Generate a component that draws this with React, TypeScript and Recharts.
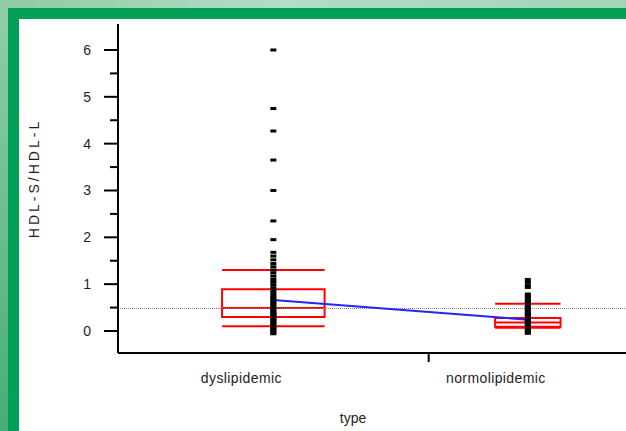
import React from 'react';
import { ComposedChart, XAxis, YAxis, Scatter, Line, ReferenceLine, ReferenceArea, Label } from 'recharts';

// ---- data ----
const categories = ['dyslipidemic', 'normolipidemic'];
const groupCounts = [47, 30];
const dysValues = [
  6.0, 4.75, 4.27, 3.65, 3.0, 2.35, 1.95, 1.68, 1.6, 1.52, 1.44, 1.37, 1.3, 1.24,
  1.17, 1.1, 1.04, 0.98, 0.92, 0.87, 0.82, 0.77, 0.72, 0.68, 0.64, 0.6, 0.56, 0.52,
  0.48, 0.44, 0.41, 0.37, 0.34, 0.3, 0.27, 0.24, 0.21, 0.18, 0.15, 0.12, 0.09, 0.06,
  0.03, 0.0, -0.03, -0.06, 0.36,
];
const normoValues = [
  1.1, 1.04, 0.98, 0.93, 0.79, 0.75, 0.71, 0.67, 0.63, 0.6, 0.56, 0.52, 0.48, 0.45,
  0.41, 0.38, 0.35, 0.31, 0.28, 0.25, 0.22, 0.19, 0.16, 0.13, 0.1, 0.07, 0.04, 0.01,
  -0.02, -0.05,
];
const q10 = [0.1, 0.07];
const q25 = [0.3, 0.09];
const medians = [0.49, 0.18];
const q75 = [0.89, 0.28];
const q90 = [1.3, 0.58];
const means = [0.66, 0.24];
const grandMean = 0.48;
const yTickLabels = [0, 1, 2, 3, 4, 5, 6];
const yDomain = [-0.47, 6.555];

// ---- derived ----
const total = groupCounts.reduce((a, b) => a + b, 0);
const starts = groupCounts.map((_, i) => groupCounts.slice(0, i).reduce((a, b) => a + b, 0));
const centers = groupCounts.map((n, i) => starts[i] + n / 2);
const halfW = groupCounts.map((n) => n * 0.165);
const boundary = starts[1];
const yTicks = yTickLabels.flatMap((v, i) => (i < yTickLabels.length - 1 ? [v, v + 0.5] : [v]));
const groupValues = [dysValues, normoValues];
const pointData = groupValues.map((vals, i) => vals.map((v) => ({ x: centers[i], y: v })));
const meanData = means.map((m, i) => ({ x: centers[i], y: m }));

const FONT = "'Liberation Sans', Arial, sans-serif";
const RED = '#ff0000';
const TXT = '#1e1e1e';

const Marker = (props: any) => {
  const { cx, cy } = props;
  return <rect x={cx - 3} y={cy - 1.5} width={6} height={3} fill="#000" />;
};

const YTick = (props: any) => {
  const { x, y, payload } = props;
  const v = payload.value;
  const major = Number.isInteger(v);
  return (
    <g>
      <line x1={x - (major ? 14 : 8)} x2={x} y1={y} y2={y} stroke="#000" strokeWidth={2} />
      {major && (
        <text x={x - 27} y={y} dy={5} textAnchor="end" fontFamily={FONT} fontSize={14} fill={TXT}>
          {v}
        </text>
      )}
    </g>
  );
};

const XTick = (props: any) => {
  const { x, y, payload } = props;
  const v = payload.value;
  if (v === boundary) {
    return <line x1={x} x2={x} y1={y} y2={y + 9} stroke="#000" strokeWidth={2} />;
  }
  const idx = centers.indexOf(v);
  return (
    <text x={x - 32} y={y + 30} textAnchor="middle" fontFamily={FONT} fontSize={14} fill={TXT} letterSpacing={0.4}>
      {categories[idx]}
    </text>
  );
};

const YLabel = (props: any) => {
  const vb = props.viewBox || {};
  const cx = vb.x + 31;
  const cy = vb.y + vb.height / 2 - 10;
  return (
    <text
      x={cx}
      y={cy}
      transform={`rotate(-90, ${cx}, ${cy})`}
      textAnchor="middle"
      fontFamily={FONT}
      fontSize={14}
      fill={TXT}
      letterSpacing={3}
    >
      HDL-S/HDL-L
    </text>
  );
};

const XLabel = (props: any) => {
  const vb = props.viewBox || {};
  return (
    <text x={353} y={vb.y + vb.height - 8} textAnchor="middle" fontFamily={FONT} fontSize={14} fill={TXT}>
      type
    </text>
  );
};

export default function App() {
  return (
    <div
      style={{
        position: 'absolute',
        left: 0,
        top: 0,
        width: 626,
        height: 431,
        overflow: 'hidden',
        background: 'linear-gradient(180deg, #92cea8 0%, #6cbf8c 50%, #48ad74 100%)',
      }}
    >
      <div
        style={{
          position: 'absolute',
          left: 0,
          top: 0,
          width: 626,
          height: 8,
          background: 'linear-gradient(90deg, #8ecaa3 0%, #b3ddc5 45%, #a2d4b5 100%)',
        }}
      />
      <div style={{ position: 'absolute', left: 8, top: 8, right: 0, bottom: 0, background: '#00a057' }} />
      <div style={{ position: 'absolute', left: 19, top: 19, right: 0, bottom: 0, background: '#ffffff' }} />
      <div style={{ position: 'absolute', left: 0, top: 0 }}>
        <ComposedChart width={660} height={431} margin={{ top: 24, right: 33, bottom: 0, left: 8 }}>
          <XAxis
            type="number"
            dataKey="x"
            domain={[0, total]}
            ticks={[centers[0], boundary, centers[1]]}
            tick={<XTick />}
            tickLine={false}
            tickSize={0}
            tickMargin={0}
            height={78}
            axisLine={{ stroke: '#000', strokeWidth: 2 }}
            allowDataOverflow
          >
            <Label content={<XLabel />} />
          </XAxis>
          <XAxis
            xAxisId="top"
            orientation="top"
            type="number"
            domain={[0, total]}
            tick={false}
            tickLine={false}
            height={0}
            axisLine={{ stroke: '#000', strokeWidth: 2 }}
          />
          <YAxis
            type="number"
            dataKey="y"
            domain={yDomain}
            ticks={yTicks}
            tick={<YTick />}
            tickLine={false}
            tickSize={0}
            tickMargin={0}
            width={110}
            interval={0}
            axisLine={{ stroke: '#000', strokeWidth: 2 }}
            allowDataOverflow
          >
            <Label content={<YLabel />} />
          </YAxis>
          {centers.map((c, i) => (
            <ReferenceArea
              key={'box' + i}
              x1={c - halfW[i]}
              x2={c + halfW[i]}
              y1={q25[i]}
              y2={q75[i]}
              fill="none"
              fillOpacity={0}
              stroke={RED}
              strokeWidth={2}
            />
          ))}
          {centers.map((c, i) =>
            [q10[i], medians[i], q90[i]].map((v, j) => (
              <ReferenceLine
                key={'q' + i + '-' + j}
                segment={[
                  { x: c - halfW[i], y: v },
                  { x: c + halfW[i], y: v },
                ]}
                stroke={RED}
                strokeWidth={2}
              />
            ))
          )}
          <ReferenceLine y={grandMean} stroke="#8a8a8a" strokeWidth={1} strokeDasharray="1 1" />
          <Line
            data={meanData}
            dataKey="y"
            stroke="#2323ff"
            strokeWidth={2}
            dot={false}
            activeDot={false}
            isAnimationActive={false}
          />
          {pointData.map((d, i) => (
            <Scatter key={'pts' + i} data={d} dataKey="y" shape={<Marker />} isAnimationActive={false} />
          ))}
        </ComposedChart>
      </div>
    </div>
  );
}
